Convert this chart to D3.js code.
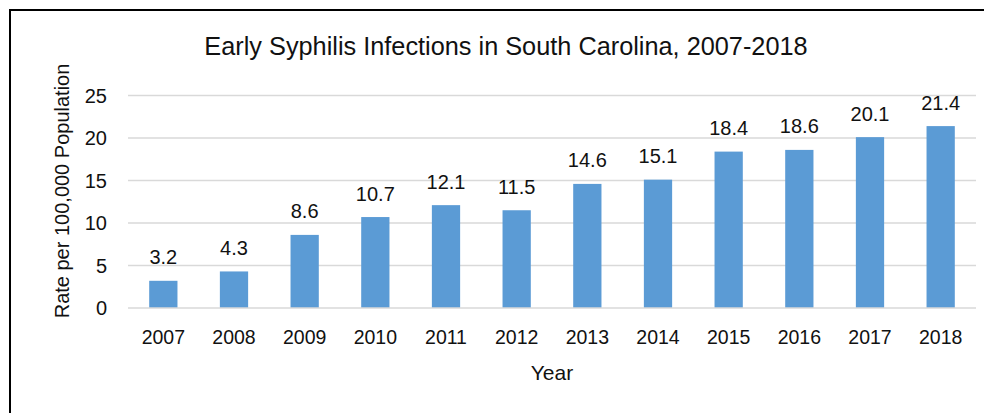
<!DOCTYPE html>
<html><head><meta charset="utf-8">
<script src="https://cdn.jsdelivr.net/npm/d3@7"></script>
<style>body{margin:0;background:#fff;}svg{display:block;font-family:"Liberation Sans",Arial,sans-serif;}</style>
</head><body>
<svg id="c" width="984" height="413"></svg>
<script>
const years = ["2007","2008","2009","2010","2011","2012","2013","2014","2015","2016","2017","2018"];
const rates = [3.2,4.3,8.6,10.7,12.1,11.5,14.6,15.1,18.4,18.6,20.1,21.4];
const yTicks = [0,5,10,15,20,25];
const title = "Early Syphilis Infections in South Carolina, 2007-2018";
const xTitle = "Year";
const yTitle = "Rate per 100,000 Population";

const svg = d3.select("#c");
svg.append("rect").attr("x",10).attr("y",10).attr("width",1000).attr("height",500)
  .attr("fill","#fff").attr("stroke","#000").attr("stroke-width",2);

const x = d3.scaleBand().domain(years).range([128,976]).paddingInner(0.6).paddingOuter(0.3);
const y = d3.scaleLinear().domain([0,25]).range([308,95.5]);

// gridlines
svg.append("g").selectAll("line").data(yTicks.filter(d=>d>0)).join("line")
  .attr("x1",128).attr("x2",976).attr("y1",d=>y(d)).attr("y2",d=>y(d))
  .attr("stroke","#d9d9d9").attr("stroke-width",1.3);

// bars
svg.append("g").selectAll("rect").data(rates).join("rect")
  .attr("x",(d,i)=>x(years[i])).attr("width",x.bandwidth())
  .attr("y",d=>y(d)).attr("height",d=>y(0)-y(d)).attr("fill","#5B9BD5");

// baseline
svg.append("line").attr("x1",128).attr("x2",976).attr("y1",y(0)).attr("y2",y(0))
  .attr("stroke","#d9d9d9").attr("stroke-width",1.5);

// y tick labels
svg.append("g").selectAll("text").data(yTicks).join("text")
  .attr("x",107).attr("y",d=>y(d)+7).attr("text-anchor","end")
  .attr("font-size",20).attr("fill","#111").text(d=>d);

// x tick labels
svg.append("g").selectAll("text").data(years).join("text")
  .attr("x",d=>x(d)+x.bandwidth()/2).attr("y",344).attr("text-anchor","middle")
  .attr("font-size",19.5).attr("fill","#111").text(d=>d);

// data labels
svg.append("g").selectAll("text").data(rates).join("text")
  .attr("x",(d,i)=>x(years[i])+x.bandwidth()/2).attr("y",d=>y(d)-16.5).attr("text-anchor","middle")
  .attr("font-size",20).attr("fill","#111").text(d=>d.toFixed(1));

// titles
svg.append("text").attr("x",506).attr("y",55).attr("text-anchor","middle")
  .attr("font-size",25.3).attr("fill","#111").text(title);
svg.append("text").attr("x",552).attr("y",380).attr("text-anchor","middle")
  .attr("font-size",21).attr("fill","#111").text(xTitle);
svg.append("text").attr("transform","translate(69,191) rotate(-90)").attr("text-anchor","middle")
  .attr("font-size",20).attr("fill","#111").text(yTitle);
</script>
</body></html>
